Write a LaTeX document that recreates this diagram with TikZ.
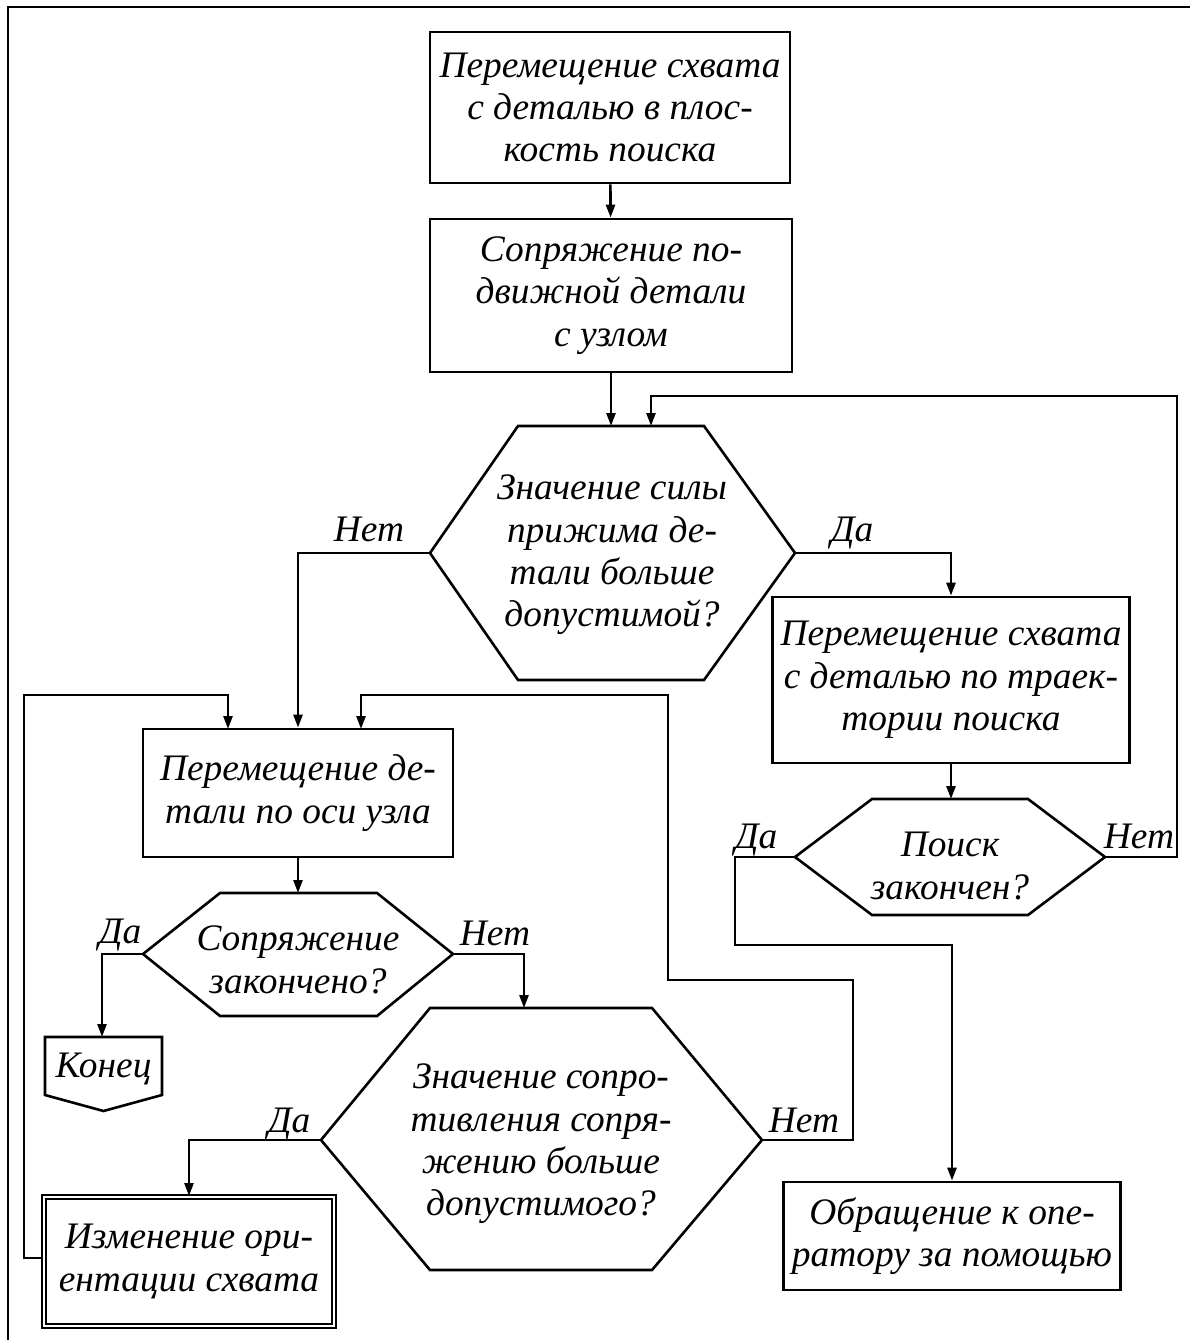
\documentclass[tikz,border=0pt]{standalone}
\usepackage{fontspec}
\setmainfont{Liberation Serif}
\usetikzlibrary{arrows.meta}

\tikzset{
  every node/.style={font=\fontsize{18.7}{21.2}\selectfont\itshape},
  blok/.style={draw, line width=1.4pt, align=center, inner sep=0pt},
  txt/.style={align=center, inner sep=0pt},
  lbl/.style={inner sep=0pt, anchor=base},
  line/.style={line width=1.3pt},
  arr/.style={line width=1.3pt, -{Triangle[length=6.5pt,width=4.5pt]}},
}

\begin{document}
\begin{tikzpicture}[x=0.5pt,y=-0.5pt]
    \useasboundingbox (0,0) rectangle (1190,1340);
    % frame
    \draw [line] (8,1340) -- (8,7) -- (1190,7);

    % boxes
    \node [blok, minimum width=180pt, minimum height=75.5pt] (b1) at (610,107.5)
        {Перемещение схвата\\ с деталью в плос-\\ кость поиска};
    \node [blok, minimum width=181pt, minimum height=76.5pt] (b2) at (611,295.5)
        {Сопряжение по-\\ движной детали\\ с узлом};
    \node [blok, minimum width=178.5pt, minimum height=83pt] (b4) at (951,680)
        {Перемещение схвата\\ с деталью по траек-\\ тории поиска};
    \node [blok, minimum width=155pt, minimum height=64pt] (b3) at (298,793)
        {Перемещение де-\\ тали по оси узла};
    \node [blok, minimum width=168.5pt, minimum height=54pt] (b5) at (952,1236)
        {Обращение к опе-\\ ратору за помощью};
    \node [blok, double, line width=1pt, double distance=1.2pt,
           minimum width=145pt, minimum height=64.5pt] (b6) at (189,1261.5)
        {Изменение ори-\\ ентации схвата};

    % decisions
    \draw [line] (430,553) -- (518,426) -- (704,426) -- (795,553) -- (704,680) -- (518,680) -- cycle;
    \node [txt] (h1) at (612,555) {Значение силы\\ прижима де-\\ тали больше\\ допустимой?};
    \draw [line] (795,857) -- (872,799) -- (1028,799) -- (1105,857) -- (1028,915) -- (872,915) -- cycle;
    \node [txt] (h2) at (950,866) {Поиск\\ закончен?};
    \draw [line] (143,954) -- (220,893) -- (377,893) -- (453,954) -- (377,1016) -- (220,1016) -- cycle;
    \node [txt] (h4) at (298,960) {Сопряжение\\ закончено?};
    \draw [line] (321,1140) -- (430,1008) -- (652,1008) -- (762,1140) -- (652,1270) -- (430,1270) -- cycle;
    \node [txt] (h3) at (541,1144) {Значение сопро-\\ тивления сопря-\\ жению больше\\ допустимого?};

    % end
    \draw [line] (45,1037) -- (162,1037) -- (162,1095) -- (103.5,1111) -- (45,1095) -- cycle;
    \node [txt] (end) at (103.5,1069) {Конец};

    % connection points
    \coordinate (h1n) at (611,426);
    \coordinate (h1m) at (651,426);
    \coordinate (h1w) at (430,553);
    \coordinate (h1e) at (795,553);
    \coordinate (h2n) at (951,799);
    \coordinate (h2w) at (795,857);
    \coordinate (h2e) at (1105,857);
    \coordinate (h4n) at (298,893);
    \coordinate (h4w) at (143,954);
    \coordinate (h4e) at (453,954);
    \coordinate (h3n) at (524,1008);
    \coordinate (h3w) at (321,1140);
    \coordinate (h3e) at (762,1140);
    \coordinate (endn) at (102,1037);
    \coordinate (b3l) at (228,729);
    \coordinate (b3r) at (361,729);
    \coordinate (b6w) at (b6.west |- 0,1258);

    % connectors
    \draw [arr] (b1) -- (b2);
    \draw [arr] (b2.south) -- (h1n);
    \draw [arr] (h1w) -| (b3.north);
    \draw [arr] (h1e) -| (b4.north);
    \draw [arr] (b4.south) -- (h2n);
    \draw [arr] (h2e) -| (1177,396) -| (h1m);
    \draw [arr] (h2w) -| (735,945) -| (b5.north);
    \draw [arr] (b3.south) -- (h4n);
    \draw [arr] (h4w) -| (endn);
    \draw [arr] (h4e) -| (h3n);
    \draw [arr] (h3w) -| (b6.north);
    \draw [arr] (h3e) -| (853,980) -| (668,695) -| (b3r);
    \draw [arr] (b6w) -| (24,695) -| (b3l);

    % branch labels
    \node [lbl] (n1) at (369,541) {Нет};
    \node [lbl] (y1) at (852,541) {Да};
    \node [lbl] (y2) at (756,848) {Да};
    \node [lbl] (n2) at (1139,848) {Нет};
    \node [lbl] (y4) at (120,943) {Да};
    \node [lbl] (n4) at (495,945) {Нет};
    \node [lbl] (y3) at (289,1132) {Да};
    \node [lbl] (n3) at (804,1132) {Нет};
\end{tikzpicture}
\end{document}
